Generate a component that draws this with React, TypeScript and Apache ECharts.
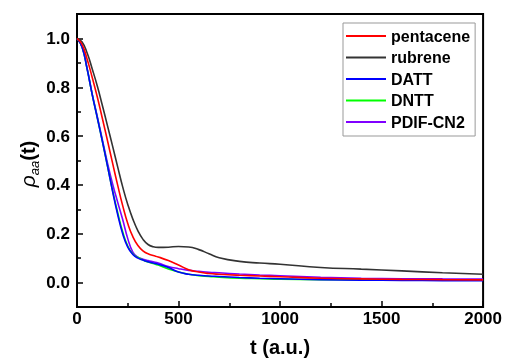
import React, { useEffect, useRef } from "react";
import * as echarts from "echarts";

const tValues = [0, 25, 50, 75, 100, 125, 150, 175, 200, 225, 250, 275, 300, 325, 350, 375, 400, 450, 500, 550, 600, 650, 700, 800, 900, 1000, 1200, 1400, 1600, 1800, 2000];

const pentacene = [1.0, 0.975, 0.915, 0.84, 0.76, 0.672, 0.582, 0.49, 0.4, 0.315, 0.242, 0.188, 0.152, 0.13, 0.118, 0.111, 0.105, 0.09, 0.072, 0.053, 0.043, 0.037, 0.034, 0.03, 0.027, 0.024, 0.018, 0.015, 0.013, 0.012, 0.011];
const rubrene = [1.0, 0.985, 0.94, 0.875, 0.805, 0.725, 0.643, 0.56, 0.475, 0.392, 0.32, 0.26, 0.212, 0.177, 0.156, 0.147, 0.144, 0.145, 0.148, 0.146, 0.135, 0.118, 0.102, 0.087, 0.08, 0.075, 0.062, 0.055, 0.048, 0.04, 0.034];
const datt = [1.0, 0.965, 0.875, 0.77, 0.675, 0.578, 0.478, 0.375, 0.28, 0.2, 0.145, 0.115, 0.1, 0.092, 0.085, 0.08, 0.075, 0.062, 0.043, 0.034, 0.03, 0.027, 0.025, 0.021, 0.018, 0.016, 0.012, 0.01, 0.009, 0.008, 0.008];
const dntt = [1.0, 0.965, 0.875, 0.77, 0.675, 0.578, 0.478, 0.378, 0.288, 0.208, 0.15, 0.117, 0.103, 0.092, 0.084, 0.078, 0.072, 0.056, 0.043, 0.034, 0.028, 0.025, 0.022, 0.018, 0.016, 0.014, 0.012, 0.011, 0.01, 0.01, 0.01];
const pdif = [1.0, 0.965, 0.875, 0.772, 0.68, 0.585, 0.49, 0.405, 0.33, 0.258, 0.18, 0.125, 0.104, 0.096, 0.09, 0.085, 0.08, 0.066, 0.057, 0.05, 0.046, 0.042, 0.04, 0.035, 0.031, 0.028, 0.022, 0.018, 0.016, 0.015, 0.014];

const seriesNames = ["pentacene", "rubrene", "DATT", "DNTT", "PDIF-CN2"];
const seriesColors = ["#ff0000", "#333333", "#0000ff", "#00ff00", "#8000ff"];
const yLabelValues = [0, 0.2, 0.4, 0.6, 0.8, 1.0];
const yMinorValues = [0.1, 0.3, 0.5, 0.7, 0.9];

export default function App() {
  const ref = useRef<HTMLDivElement>(null);
  useEffect(() => {
    if (!ref.current) return;
    const chart = echarts.init(ref.current, null, { renderer: "svg" });
    const allData = [pentacene, rubrene, datt, dntt, pdif];
    const font = "'Liberation Sans', Arial, sans-serif";
    chart.setOption({
      animation: false,
      grid: { left: 77, right: 21, top: 14, bottom: 49, show: true, borderColor: "#000", borderWidth: 2, backgroundColor: "transparent" },
      legend: {
        orient: "vertical",
        left: 343,
        top: 23,
        padding: [5, 5, 6, 3],
        itemGap: 5.5,
        itemWidth: 40,
        itemHeight: 2,
        icon: "rect",
        borderColor: "#999",
        borderWidth: 1,
        textStyle: { fontFamily: font, fontWeight: "bold", fontSize: 16, color: "#000", lineHeight: 16 },
        data: seriesNames,
      },
      xAxis: {
        type: "value",
        min: 0,
        max: 2000,
        interval: 500,
        name: "t (a.u.)",
        nameLocation: "middle",
        nameGap: 30,
        nameTextStyle: { fontFamily: font, fontWeight: "bold", fontSize: 20, color: "#000" },
        axisLine: { show: true, onZero: false, lineStyle: { color: "#000", width: 2 } },
        axisTick: { show: true, inside: true, length: 6, lineStyle: { color: "#000", width: 1.5 } },
        minorTick: { show: true, splitNumber: 2, length: 4, lineStyle: { color: "#000", width: 1.5 } },
        splitLine: { show: false },
        axisLabel: { fontFamily: font, fontWeight: "bold", fontSize: 17, color: "#000", margin: 3, formatter: (v: number) => String(v) },
      },
      yAxis: [
        {
          type: "value",
          min: -0.1,
          max: 1.1,
          interval: 0.1,
          axisLine: { show: true, onZero: false, lineStyle: { color: "#000", width: 2 } },
          axisTick: { show: true, inside: true, length: 6, customValues: yLabelValues, lineStyle: { color: "#000", width: 1.5 } },
          splitLine: { show: false },
          axisLabel: {
            fontFamily: font,
            fontWeight: "bold",
            fontSize: 17,
            color: "#000",
            margin: 7,
            customValues: yLabelValues,
            formatter: (v: number) => v.toFixed(1),
          },
        },
        {
          type: "value",
          position: "left",
          min: -0.1,
          max: 1.1,
          interval: 0.1,
          axisLine: { show: false, onZero: false },
          axisTick: { show: true, inside: true, length: 4, customValues: yMinorValues, lineStyle: { color: "#000", width: 1.5 } },
          axisLabel: { show: false },
          splitLine: { show: false },
        },
      ],
      graphic: [
        {
          type: "text",
          x: 26,
          y: 164,
          rotation: Math.PI / 2,
          style: {
            text: "{r|ρ}{s|aa}{n|(t)}",
            align: "center",
            verticalAlign: "middle",
            rich: {
              r: { fontFamily: font, fontStyle: "italic", fontSize: 21, fill: "#000", lineHeight: 24, verticalAlign: "bottom" },
              s: { fontFamily: font, fontStyle: "italic", fontSize: 13, fill: "#000", lineHeight: 24, verticalAlign: "bottom", padding: [0, 0, -3, 0] },
              n: { fontFamily: font, fontWeight: "bold", fontSize: 20, fill: "#000", lineHeight: 24, verticalAlign: "bottom" },
            },
          },
        },
      ],
      series: seriesNames.map((name, i) => ({
        name,
        type: "line",
        smooth: 0.5,
        symbol: "none",
        yAxisIndex: 0,
        lineStyle: { color: seriesColors[i], width: 1.6 },
        itemStyle: { color: seriesColors[i] },
        data: tValues.map((t, j) => [t, allData[i][j]]),
        z: 10 - i,
      })),
    });
    return () => chart.dispose();
  }, []);
  return <div ref={ref} style={{ position: "fixed", left: 0, top: 0, width: 505, height: 362 }} />;
}
